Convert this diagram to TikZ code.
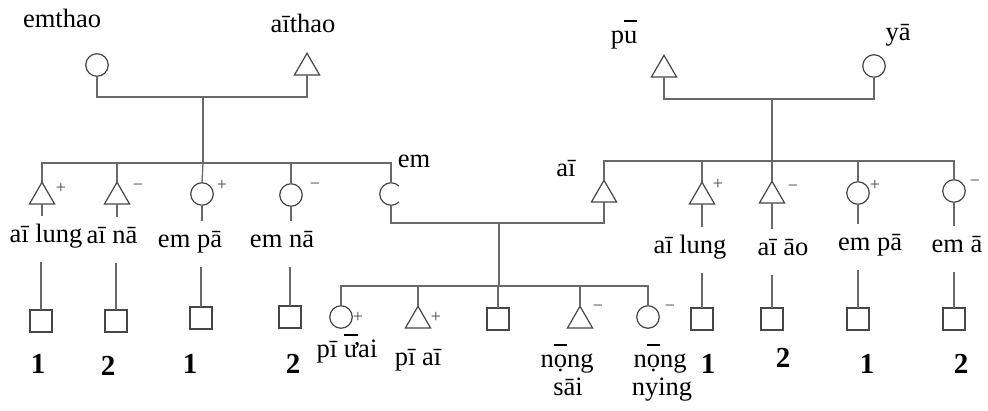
\documentclass[tikz,border=0pt]{standalone}
\usepackage{fontspec}
\setmainfont{Liberation Serif}
\usetikzlibrary{shapes.geometric}
\definecolor{lc}{RGB}{105,105,105}
\definecolor{sc}{RGB}{70,70,70}
\newcommand\obar[1]{\leavevmode\setbox0=\hbox{#1}\rlap{\rule[21pt]{\wd0}{1.8pt}}\box0}
\tikzset{
  ln/.style={draw=lc, line width=1.3pt},
  shp/.style={draw=sc, line width=1.2pt},
  fem/.style={circle, shp, minimum size=22.5pt, inner sep=0pt, outer sep=0pt},
  emc/.style={circle, draw=none, minimum size=22.5pt, inner sep=0pt, outer sep=0pt},
  mal/.style={regular polygon, regular polygon sides=3, shp, minimum size=29pt, inner sep=0pt, outer sep=0pt, anchor=south},
  sqr/.style={rectangle, shp, minimum size=22pt, inner sep=0pt, outer sep=0pt},
  lab/.style={font=\fontsize{26.5}{29}\selectfont, inner sep=0pt, anchor=base},
  clab/.style={lab, text height=26pt, text depth=20pt},
  num/.style={font=\fontsize{29}{32}\selectfont\bfseries, inner sep=0pt, anchor=base},
  sg/.style={font=\fontsize{18}{18}\selectfont, inner sep=0pt, text=sc},
}
\begin{document}
\begin{tikzpicture}[x=1pt,y=-1pt]
\path[use as bounding box, fill=white] (0,0) rectangle (988,410);

% ---------- left grandparents ----------
\node[fem] (emthao) at (97,65) {};
\node[mal] (aithao) at (307,75) {};
\node[lab] (emthaoL) at (62,27) {emthao};
\node[lab] (aithaoL) at (303,32) {aīthao};
\coordinate (m1) at (203,97);
\coordinate (b1) at (203,163);
\draw[ln] (emthao.south) |- (m1) -| (aithao.south);
\draw[ln] (m1) -- (b1);

% left children
\node[mal] (L1) at (42,204) {};
\node[mal] (L2) at (117,204) {};
\node[fem] (L3) at (202,194) {};
\node[fem] (L4) at (291,195) {};
\node[emc] (em) at (391,194) {};
\draw[shp] (em.45) arc[start angle=45, end angle=315, radius=11.25pt];
\draw[ln] (b1) -| (L1.north);
\draw[ln] (b1) -| (L2.north);
\draw[ln] (b1) -- (L3.north);
\draw[ln] (b1) -| (L4.north);
\draw[ln] (b1) -| (em.north);
\node[lab] (emL) at (414,167) {em};

\node[sg] (sgL1) at (61,188) {+};
\node[sg] (sgL2) at (138,187) {−};
\node[sg] (sgL3) at (222,185) {+};
\node[sg] (sgL4) at (315,186) {−};

\node[clab] (lL1) at (46,242) {aī lung};
\node[clab] (lL2) at (112,243) {aī nā};
\node[clab] (lL3) at (190,247) {em pā};
\node[clab] (lL4) at (282,247) {em nā};
\draw[ln] (L1.south) -- (L1.south |- lL1.north);
\draw[ln] (L2.south) -- (L2.south |- lL2.north);
\draw[ln] (L3.south) -- (L3.south |- lL3.north);
\draw[ln] (L4.south) -- (L4.south |- lL4.north);

\node[sqr] (qL1) at (41,321) {};
\node[sqr] (qL2) at (116,321) {};
\node[sqr] (qL3) at (201,318) {};
\node[sqr] (qL4) at (290,317) {};
\draw[ln] (qL1.north) -- (qL1.north |- lL1.south);
\draw[ln] (qL2.north) -- (qL2.north |- lL2.south);
\draw[ln] (qL3.north) -- (qL3.north |- lL3.south);
\draw[ln] (qL4.north) -- (qL4.north |- lL4.south);

\node[num] (nL1) at (38,373) {1};
\node[num] (nL2) at (108,375) {2};
\node[num] (nL3) at (190,373) {1};
\node[num] (nL4) at (293,373) {2};

% ---------- right grandparents ----------
\node[mal] (pu) at (664,77) {};
\node[fem] (ya) at (874,66) {};
\node[lab] (puL) at (624,43) {p\obar{u}};
\node[lab] (yaL) at (898,40) {yā};
\coordinate (m2) at (772,99);
\coordinate (b2) at (772,161);
\draw[ln] (pu.south) |- (m2) -| (ya.south);
\draw[ln] (m2) -- (b2);

% right children
\node[mal] (ai) at (604,202) {};
\node[mal] (R2) at (702,204) {};
\node[mal] (R3) at (772,203) {};
\node[fem] (R4) at (858,193) {};
\node[fem] (R5) at (954,191) {};
\draw[ln] (b2) -| (ai.north);
\draw[ln] (b2) -| (R2.north);
\draw[ln] (b2) -- (R3.north);
\draw[ln] (b2) -| (R4.north);
\draw[ln] (b2) -| (R5.north);
\node[lab] (aiL) at (566,176) {aī};

\node[sg] (sgR2) at (718,184) {+};
\node[sg] (sgR3) at (793,188) {−};
\node[sg] (sgR4) at (875,185) {+};
\node[sg] (sgR5) at (975,183) {−};

\node[clab] (lR2) at (690,253) {aī lung};
\node[clab] (lR3) at (783,255) {aī āo};
\node[clab] (lR4) at (870,250) {em pā};
\node[clab] (lR5) at (957,252) {em ā};
\draw[ln] (R2.south) -- (R2.south |- lR2.north);
\draw[ln] (R3.south) -- (R3.south |- lR3.north);
\draw[ln] (R4.south) -- (R4.south |- lR4.north);
\draw[ln] (R5.south) -- (R5.south |- lR5.north);

\node[sqr] (qR2) at (702,319) {};
\node[sqr] (qR3) at (772,319) {};
\node[sqr] (qR4) at (858,319) {};
\node[sqr] (qR5) at (954,319) {};
\draw[ln] (qR2.north) -- (qR2.north |- lR2.south);
\draw[ln] (qR3.north) -- (qR3.north |- lR3.south);
\draw[ln] (qR4.north) -- (qR4.north |- lR4.south);
\draw[ln] (qR5.north) -- (qR5.north |- lR5.south);

\node[num] (nR2) at (708,373) {1};
\node[num] (nR3) at (783,367) {2};
\node[num] (nR4) at (867,373) {1};
\node[num] (nR5) at (961,373) {2};

% ---------- middle family ----------
\coordinate (m3) at (499,223);
\coordinate (b3) at (499,286);
\draw[ln] (em.south) |- (m3) -| (ai.south);
\draw[ln] (m3) -- (b3);

\node[fem] (C1) at (341,317) {};
\node[mal] (C2) at (418,328) {};
\node[sqr] (C3) at (498,319) {};
\node[mal] (C4) at (580,328) {};
\node[fem] (C5) at (648,317) {};
\draw[ln] (b3) -| (C1.north);
\draw[ln] (b3) -| (C2.north);
\draw[ln] (b3) -| (C3.north);
\draw[ln] (b3) -| (C4.north);
\draw[ln] (b3) -| (C5.north);

\node[sg] (sgC1) at (358,317) {+};
\node[sg] (sgC2) at (436,317) {+};
\node[sg] (sgC4) at (598,308) {−};
\node[sg] (sgC5) at (670,308) {−};

\node[lab] (lC1) at (347,357) {pī \obar{ư}ai};
\node[lab] (lC2) at (418,365) {pī aī};
\node[lab] (lC4a) at (567,367) {n\obar{ọ}ng};
\node[lab] (lC4b) at (568,395) {sāi};
\node[lab] (lC5a) at (660,367) {n\obar{ọ}ng};
\node[lab] (lC5b) at (662,395) {nying};
\end{tikzpicture}
\end{document}
